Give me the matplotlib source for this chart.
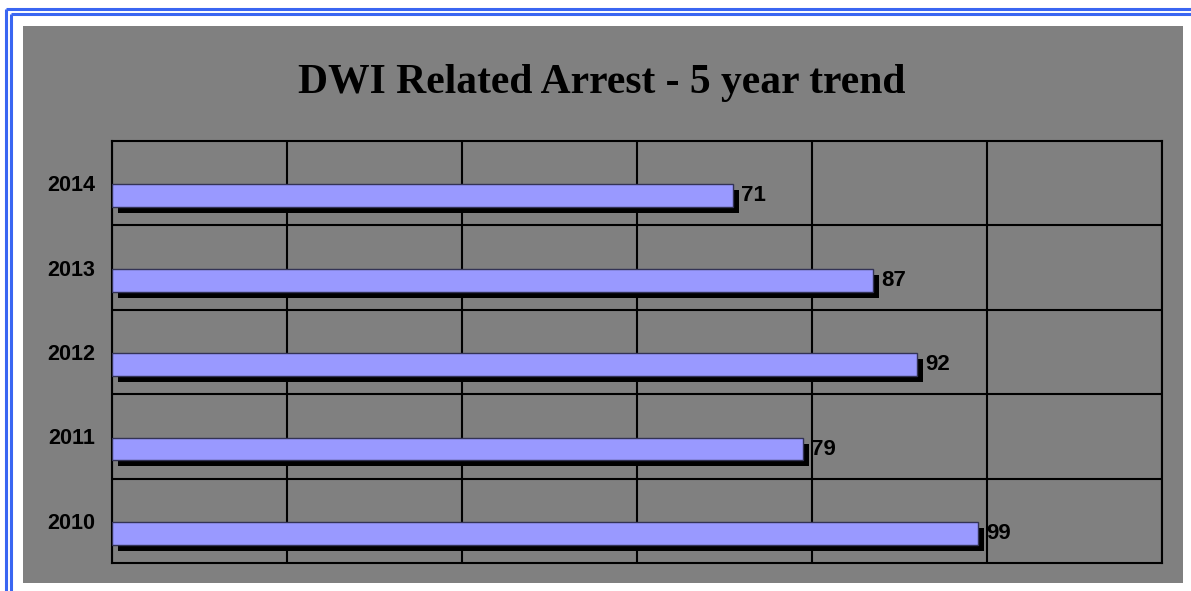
import matplotlib
matplotlib.use("Agg")
import matplotlib.pyplot as plt
import matplotlib.patheffects as pe
from matplotlib.patches import Rectangle
from matplotlib.lines import Line2D

years = ["2010", "2011", "2012", "2013", "2014"]
arrests = [99, 79, 92, 87, 71]
title = "DWI Related Arrest - 5 year trend"

W, H = 1191, 591
fig = plt.figure(figsize=(W / 100, H / 100), dpi=100, facecolor="white")

def fx(px):
    return px / W

def fy(py):
    return 1 - py / H

# gray chart area
fig.patches.append(Rectangle((fx(23), fy(583)), fx(1183) - fx(23), fy(26) - fy(583),
                             transform=fig.transFigure, facecolor="#808080",
                             edgecolor="none", zorder=0))
# blue double border (top and left)
blue = "#3a66f2"
for (x0, y0, x1, y1, lw) in [
    (6, 9, W, 9, 2.2), (6, 9, 6, H, 2.2),
    (10.5, 13.5, W, 13.5, 2.2), (10.5, 13.5, 10.5, H, 2.2),
]:
    fig.lines.append(Line2D([fx(x0), fx(x1)], [fy(y0), fy(y1)], transform=fig.transFigure,
                            color=blue, lw=lw, solid_capstyle="butt", zorder=1))

ax = fig.add_axes([fx(112), fy(563), fx(1162) - fx(112), fy(141) - fy(563)])
ax.set_facecolor("#808080")
ax.set_zorder(2)

ypos = list(range(len(years)))
bar_y = [y - 0.15 for y in ypos]
bars = ax.barh(bar_y, arrests, height=0.27, color="#9999ff", edgecolor="#333355",
               linewidth=1.0, zorder=3)
for b in bars:
    b.set_path_effects([pe.SimplePatchShadow(offset=(4.3, -4.3), shadow_rgbFace="black", alpha=1.0),
                        pe.Normal()])

for y, v in zip(bar_y, arrests):
    ax.annotate(str(v), xy=(v, y), xytext=(8, 0), textcoords="offset pixels",
                ha="left", va="center", fontsize=16, fontweight="bold",
                family="Liberation Sans", color="black", zorder=4)

ax.set_xlim(0, 120)
ax.set_ylim(-0.5, 4.5)
ax.set_xticks(range(0, 121, 20))
ax.set_xticklabels([])
ax.set_yticks(ypos)
ax.set_yticklabels(years, fontsize=15.5, fontweight="bold", family="Liberation Sans",
                   color="black")
ax.set_yticks([y + 0.5 for y in ypos[:-1]], minor=True)
ax.tick_params(axis="both", which="both", length=0)
ax.tick_params(axis="y", pad=12)
ax.grid(True, axis="x", which="major", color="black", lw=1.5, zorder=1)
ax.grid(True, axis="y", which="minor", color="black", lw=1.5, zorder=1)
ax.set_axisbelow(True)
for s in ax.spines.values():
    s.set_color("black")
    s.set_linewidth(1.5)

fig.text(fx(602), fy(83), title, ha="center", va="center", fontsize=30,
         fontweight="bold", family="Liberation Serif", color="black")

fig.savefig("out.png", dpi=100, facecolor="white")
